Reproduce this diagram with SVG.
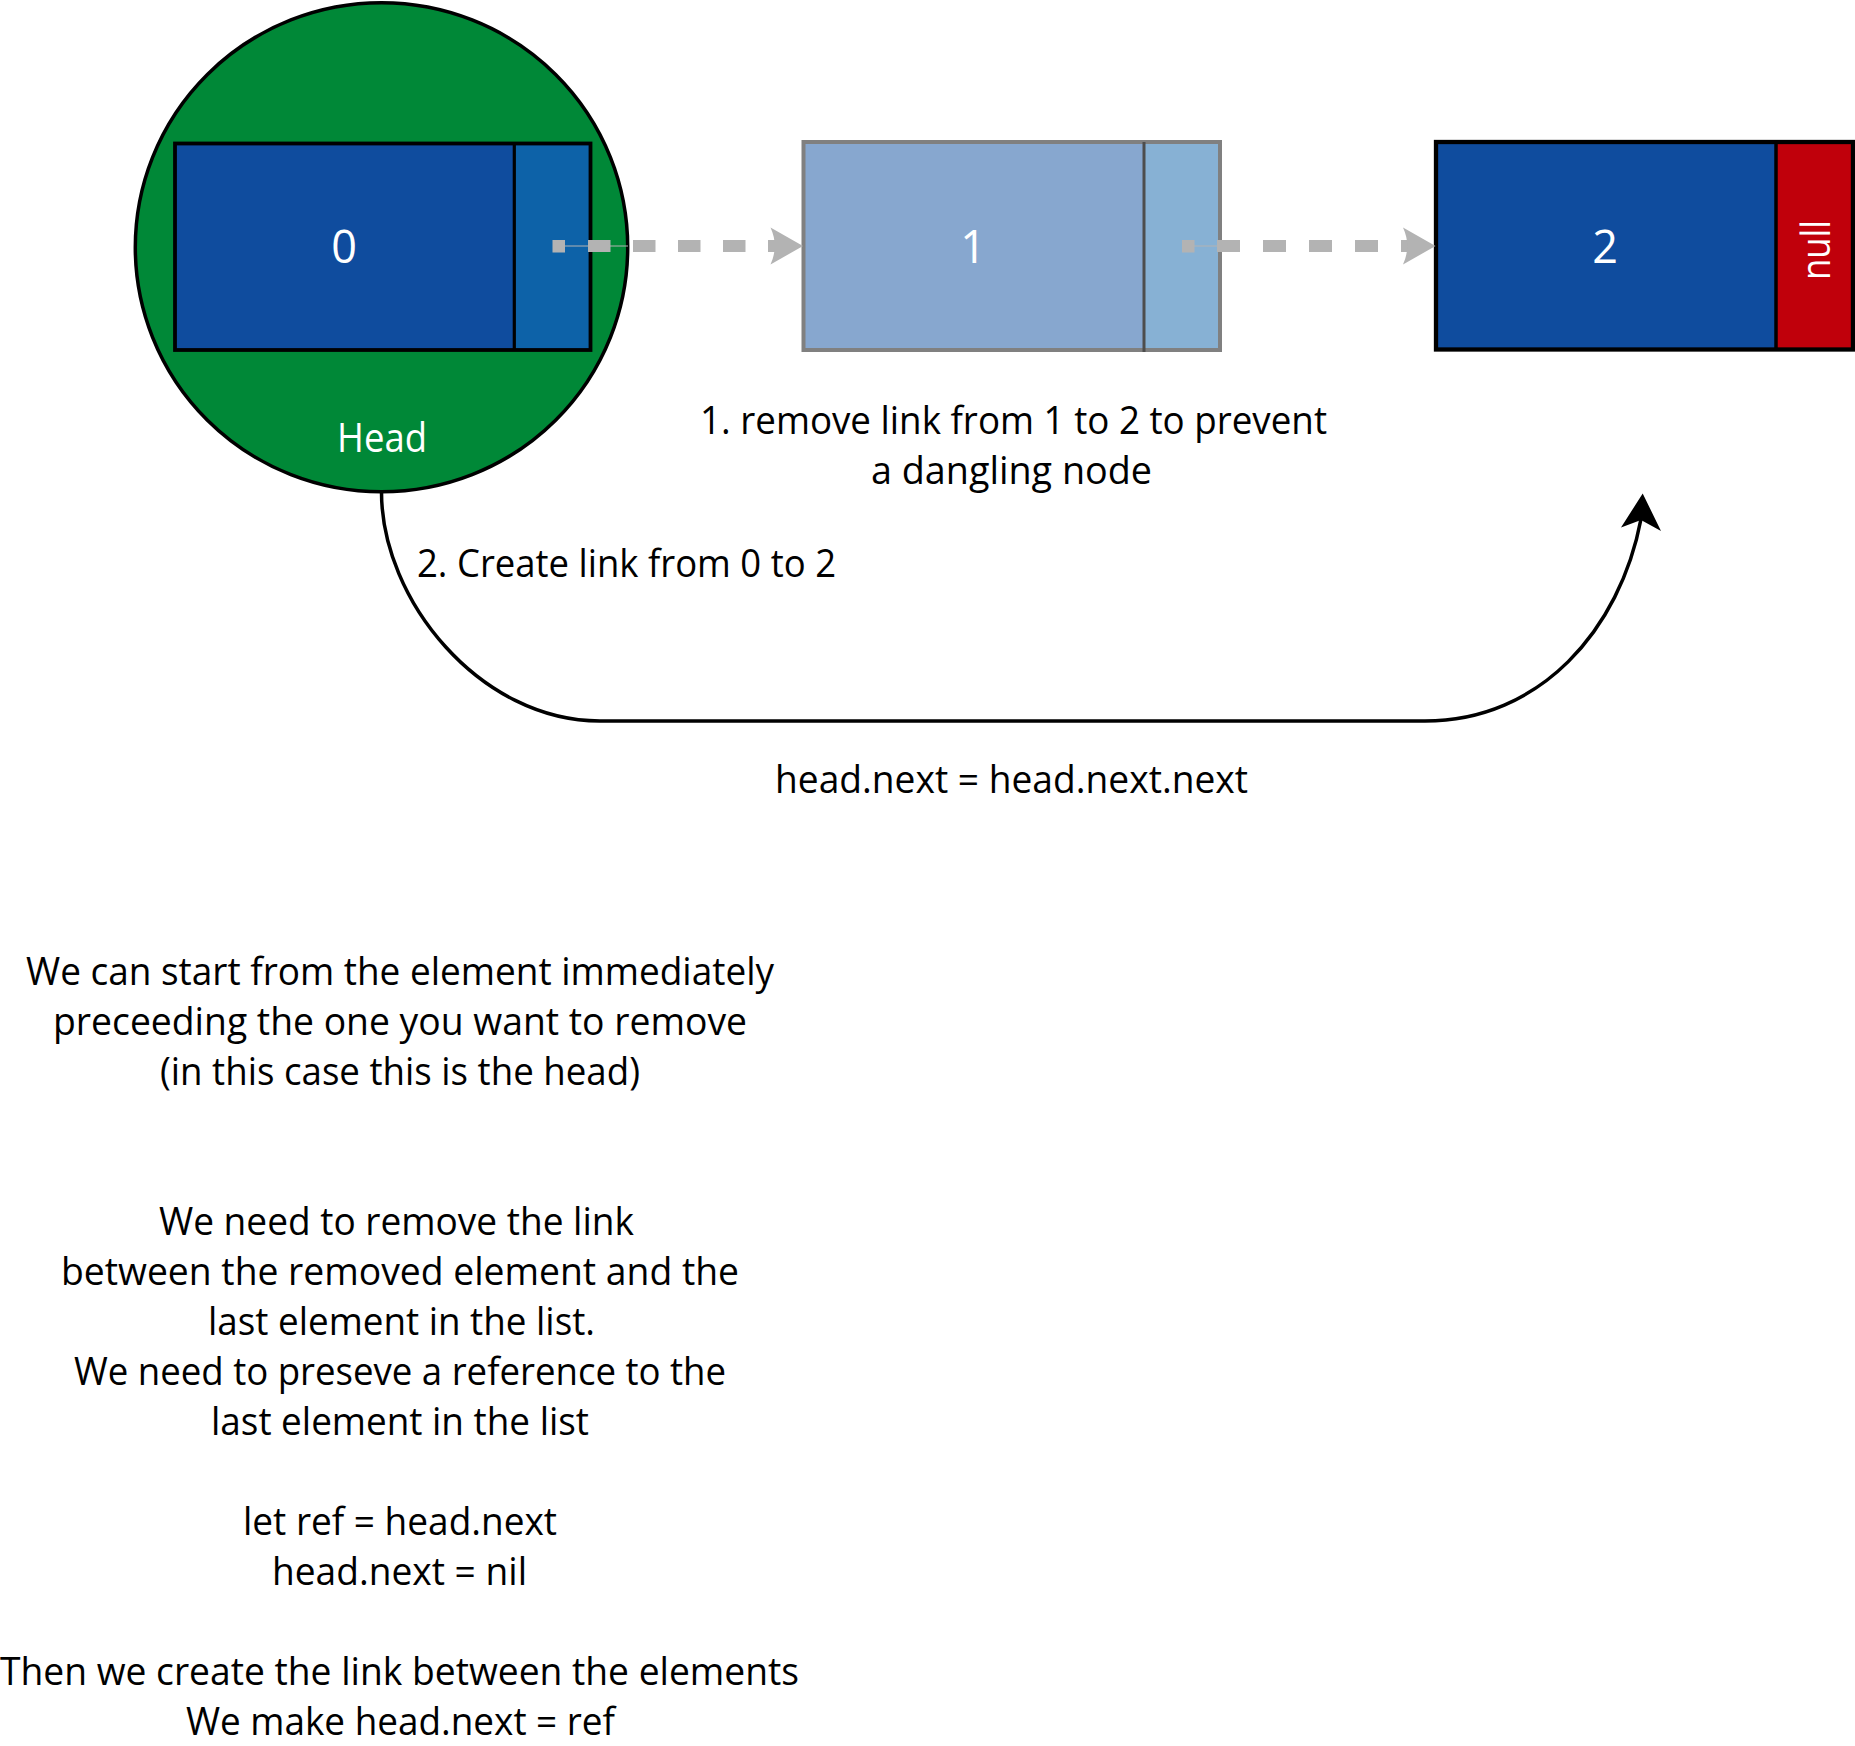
<svg xmlns="http://www.w3.org/2000/svg" width="1855" height="1746" viewBox="0 0 1855 1746">
  <style>
    .txt { font-family: "Open Sans", "Noto Sans", "Liberation Sans", sans-serif; font-size: 38px; fill: #000; }
    .wtxt { font-family: "Open Sans", "Noto Sans", "Liberation Sans", sans-serif; fill: #fff; }
    .dash { stroke: #b3b3b3; stroke-width: 12; fill: none; }
    .thin { stroke: #b3b3b3; stroke-width: 1; fill: none; }
    .head { fill: #b3b3b3; stroke: none; }
  </style>
  <rect x="0" y="0" width="1855" height="1746" fill="#fff"/>

  <g id="node-head">
    <ellipse cx="381.5" cy="247.3" rx="246.2" ry="244.5" fill="#008837" stroke="#000" stroke-width="3.5"/>
    <text class="wtxt" x="382" y="452" font-size="40" text-anchor="middle" textLength="90" lengthAdjust="spacingAndGlyphs">Head</text>
  </g>

  <g id="node-0">
    <rect x="175" y="143.5" width="339" height="206.5" fill="#0f4c9e"/>
    <rect x="514" y="143.5" width="76.5" height="206.5" fill="#0d62a8"/>
    <rect x="175" y="143.5" width="415.5" height="206.5" fill="none" stroke="#000" stroke-width="3.8"/>
    <line x1="514.3" y1="143.5" x2="514.3" y2="350" stroke="#000" stroke-width="3.2"/>
    <text class="wtxt" x="344" y="263" font-size="45" text-anchor="middle">0</text>
  </g>

  <g id="node-1">
    <rect x="803.5" y="142" width="340.5" height="208" fill="#87a7cf"/>
    <rect x="1144" y="142" width="76" height="208" fill="#87b1d4"/>
    <rect x="803.5" y="142" width="416.5" height="208" fill="none" stroke="#808080" stroke-width="4"/>
    <line x1="1144" y1="142" x2="1144" y2="352" stroke="#4d4d4d" stroke-width="3"/>
    <text class="wtxt" x="973" y="263" font-size="45" text-anchor="middle">1</text>
  </g>

  <g id="node-2">
    <rect x="1436" y="142" width="340" height="207.5" fill="#0f4c9e"/>
    <rect x="1776" y="142" width="77" height="207.5" fill="#c0000b"/>
    <rect x="1436" y="142" width="417" height="207.5" fill="none" stroke="#000" stroke-width="4.3"/>
    <line x1="1776" y1="142" x2="1776" y2="351" stroke="#000" stroke-width="3.5"/>
    <text class="wtxt" x="1605" y="263" font-size="45" text-anchor="middle">2</text>
    <text class="wtxt" font-size="40" text-anchor="middle" transform="translate(1830,250) rotate(-90)" textLength="60" lengthAdjust="spacingAndGlyphs">null</text>
  </g>

  <g id="connectors">
    <!-- 0 -> 1 dashed -->
    <line class="thin" x1="559" y1="246" x2="628" y2="246"/>
    <rect x="552.5" y="240" width="12.5" height="12.5" fill="#b3b3b3"/>
    <line class="dash" x1="588" y1="246" x2="790" y2="246" stroke-dasharray="22.5 22.5"/>
    <path class="head" d="M803,246 L770.5,227.5 Q779,246 770.5,264.5 Z"/>

    <!-- 1 -> 2 dashed -->
    <line class="thin" x1="1188" y1="246" x2="1217" y2="246"/>
    <rect x="1182" y="240" width="12.5" height="12.5" fill="#b3b3b3"/>
    <line class="dash" x1="1217" y1="246" x2="1420" y2="246" stroke-dasharray="23 23"/>
    <path class="head" d="M1435.5,246 L1403,227.5 Q1411.5,246 1403,264.5 Z"/>

    <!-- 0 -> 2 new link -->
    <path d="M381.5,492 C381.5,600 480,721 600,721 L1425,721 C1540,721 1620,630 1641,519" fill="none" stroke="#000" stroke-width="3.5"/>
    <path d="M1642.7,493.5 L1661,531 L1641,520 L1621,527.5 Z" fill="#000"/>
  </g>

  <g id="labels">
    <text class="txt" x="700" y="434" textLength="627" lengthAdjust="spacingAndGlyphs">1. remove link from 1 to 2 to prevent</text>
    <text class="txt" x="871" y="484" textLength="281" lengthAdjust="spacingAndGlyphs">a dangling node</text>
    <text class="txt" x="417" y="577" textLength="419" lengthAdjust="spacingAndGlyphs">2. Create link from 0 to 2</text>
    <text class="txt" x="775" y="793" textLength="473" lengthAdjust="spacingAndGlyphs">head.next = head.next.next</text>

    <text class="txt" x="26" y="985" textLength="748" lengthAdjust="spacingAndGlyphs">We can start from the element immediately</text>
    <text class="txt" x="53" y="1035" textLength="694" lengthAdjust="spacingAndGlyphs">preceeding the one you want to remove</text>
    <text class="txt" x="160" y="1085" textLength="480" lengthAdjust="spacingAndGlyphs">(in this case this is the head)</text>

    <text class="txt" x="159" y="1235" textLength="475" lengthAdjust="spacingAndGlyphs">We need to remove the link</text>
    <text class="txt" x="61" y="1285" textLength="678" lengthAdjust="spacingAndGlyphs">between the removed element and the</text>
    <text class="txt" x="208" y="1335" textLength="387" lengthAdjust="spacingAndGlyphs">last element in the list.</text>
    <text class="txt" x="74" y="1385" textLength="652" lengthAdjust="spacingAndGlyphs">We need to preseve a reference to the</text>
    <text class="txt" x="211" y="1435" textLength="378" lengthAdjust="spacingAndGlyphs">last element in the list</text>

    <text class="txt" x="243" y="1535" textLength="314" lengthAdjust="spacingAndGlyphs">let ref = head.next</text>
    <text class="txt" x="272" y="1585" textLength="255" lengthAdjust="spacingAndGlyphs">head.next = nil</text>

    <text class="txt" x="0" y="1685" textLength="799" lengthAdjust="spacingAndGlyphs">Then we create the link between the elements</text>
    <text class="txt" x="186" y="1735" textLength="429" lengthAdjust="spacingAndGlyphs">We make head.next = ref</text>
  </g>
</svg>
